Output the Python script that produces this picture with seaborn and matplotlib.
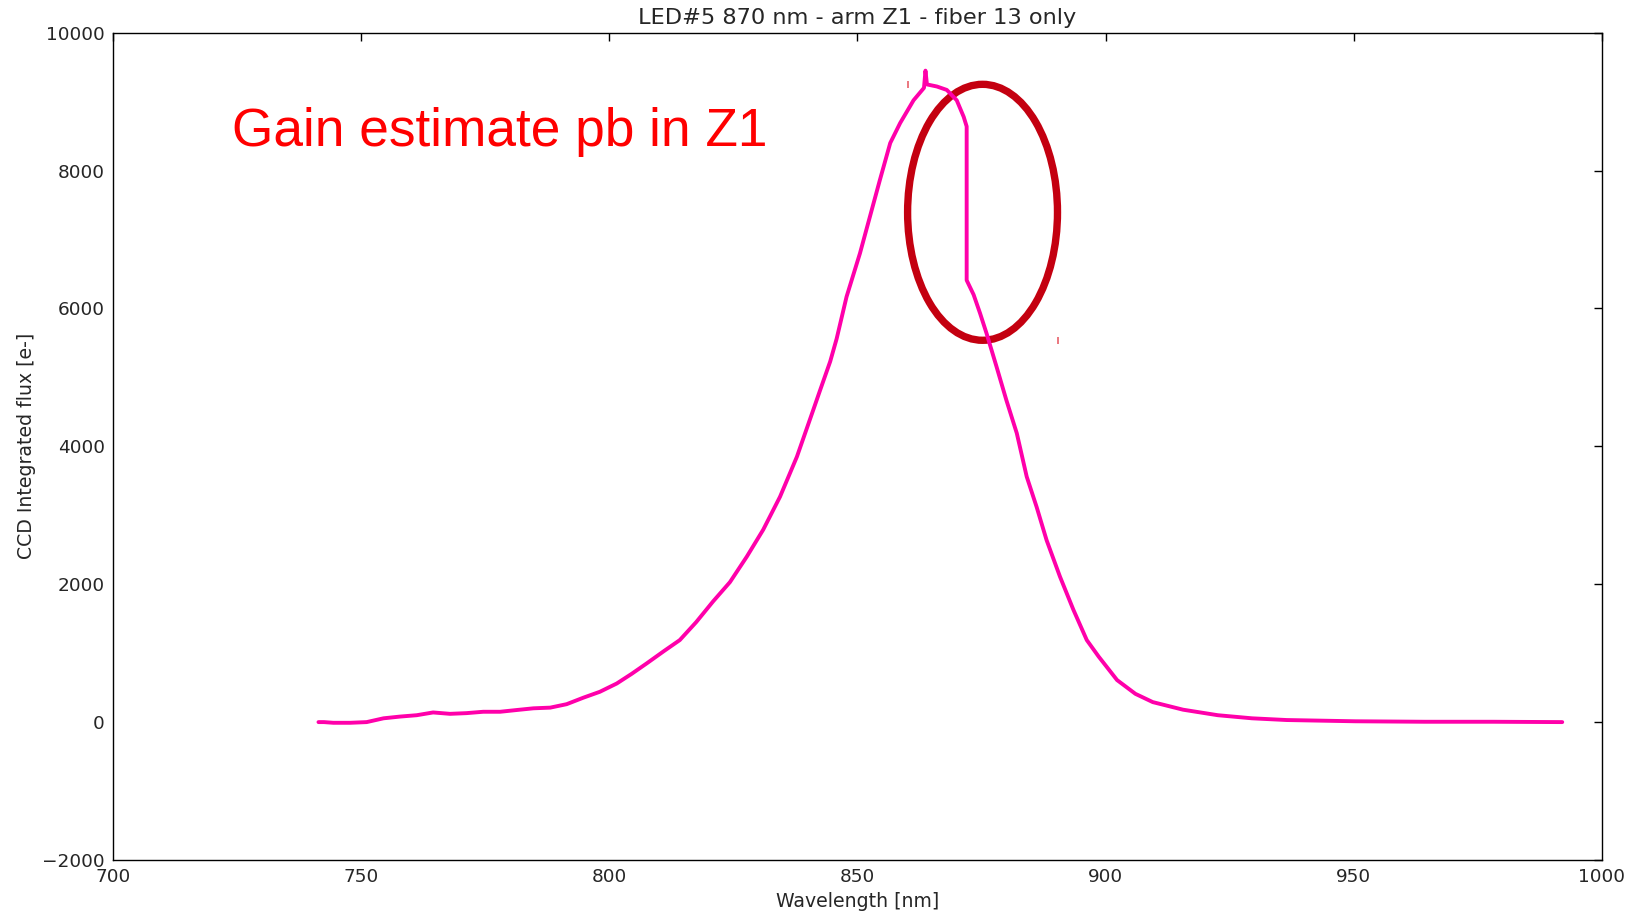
import matplotlib.pyplot as plt
from matplotlib.patches import Ellipse
import seaborn as sns
import pandas as pd

# spectrum (nm, e-)
wavelength = [741.4, 742.5, 744.4, 747.8, 751.1, 754.5, 757.8, 761.2, 764.5, 767.9,
              771.2, 774.6, 778.0, 781.3, 784.7, 788.1, 791.4, 794.8, 798.1, 801.5,
              804.5, 807.5, 811.0, 814.2, 817.5, 820.9, 824.3, 827.7, 831.0, 834.4,
              837.8, 841.1, 842.4, 844.5, 845.8, 847.8, 850.5, 852.5, 854.5, 856.6,
              858.6, 861.3, 863.4, 863.7, 864.0, 866.0, 868.0, 870.0, 871.4, 872.0,
              872.0, 873.4, 874.7, 876.0, 878.0, 880.0, 882.1, 884.1, 886.1, 888.1,
              890.8, 893.5, 896.2, 898.6, 902.3, 906.0, 909.5, 915.6, 922.6, 929.5,
              936.5, 950.3, 964.2, 978.1, 992.0]
flux = [0, 0, -10, -10, 0, 55, 80, 100, 140, 120,
        130, 150, 150, 175, 200, 210, 260, 355, 440, 560,
        700, 850, 1030, 1190, 1450, 1750, 2030, 2400, 2790, 3270,
        3850, 4530, 4800, 5230, 5560, 6170, 6800, 7330, 7860, 8400,
        8690, 9020, 9200, 9450, 9250, 9220, 9170, 9020, 8780, 8640,
        6410, 6200, 5930, 5640, 5160, 4670, 4190, 3560, 3120, 2640,
        2110, 1630, 1190, 950, 610, 410, 290, 180, 100, 55,
        30, 12, 5, 5, 0]

# two stray marks
mark_wl = [860.1, 890.5]
mark_flux = [9250, 5530]

title = "LED#5 870 nm - arm Z1 - fiber 13 only"
note = "Gain estimate pb in Z1"

sns.set_style("white")
plt.rcParams['font.family'] = ['DejaVu Sans']
plt.rcParams.update({'xtick.direction': 'in', 'ytick.direction': 'in',
                     'xtick.top': True, 'ytick.right': True})

df = pd.DataFrame({'wavelength': wavelength, 'flux': flux})

fig = plt.figure(figsize=(16.4, 9.14), dpi=100)
ax = fig.add_axes([0.0689, 0.0591, 0.9079, 0.9051])

sns.lineplot(data=df, x='wavelength', y='flux', sort=False, estimator=None,
             color='#ff00aa', lw=2.8, ax=ax)
ax.vlines(mark_wl, [f - 50 for f in mark_flux], [f + 50 for f in mark_flux],
          colors='#e8606a', lw=1.2)

# the circled problem
ax.add_patch(Ellipse((875.2, 7395), 30.2, 3713, fill=False, ec='#c40010', lw=5.3))
ax.text(724, 8350, note, color='red', fontsize=38.3, family='Liberation Sans')

ax.set_xlim(700, 1000)
ax.set_ylim(-2000, 10000)
ax.set_title(title, fontsize=16.2)
ax.set_xlabel('Wavelength [nm]', fontsize=13.6)
ax.set_ylabel('CCD Integrated flux [e-]', fontsize=13.6)
ax.tick_params(labelsize=13.3, length=6, width=1, pad=6, color='black')
for s in ax.spines.values():
    s.set_color('black')
    s.set_linewidth(1.0)

fig.savefig('out.png', dpi=100)
